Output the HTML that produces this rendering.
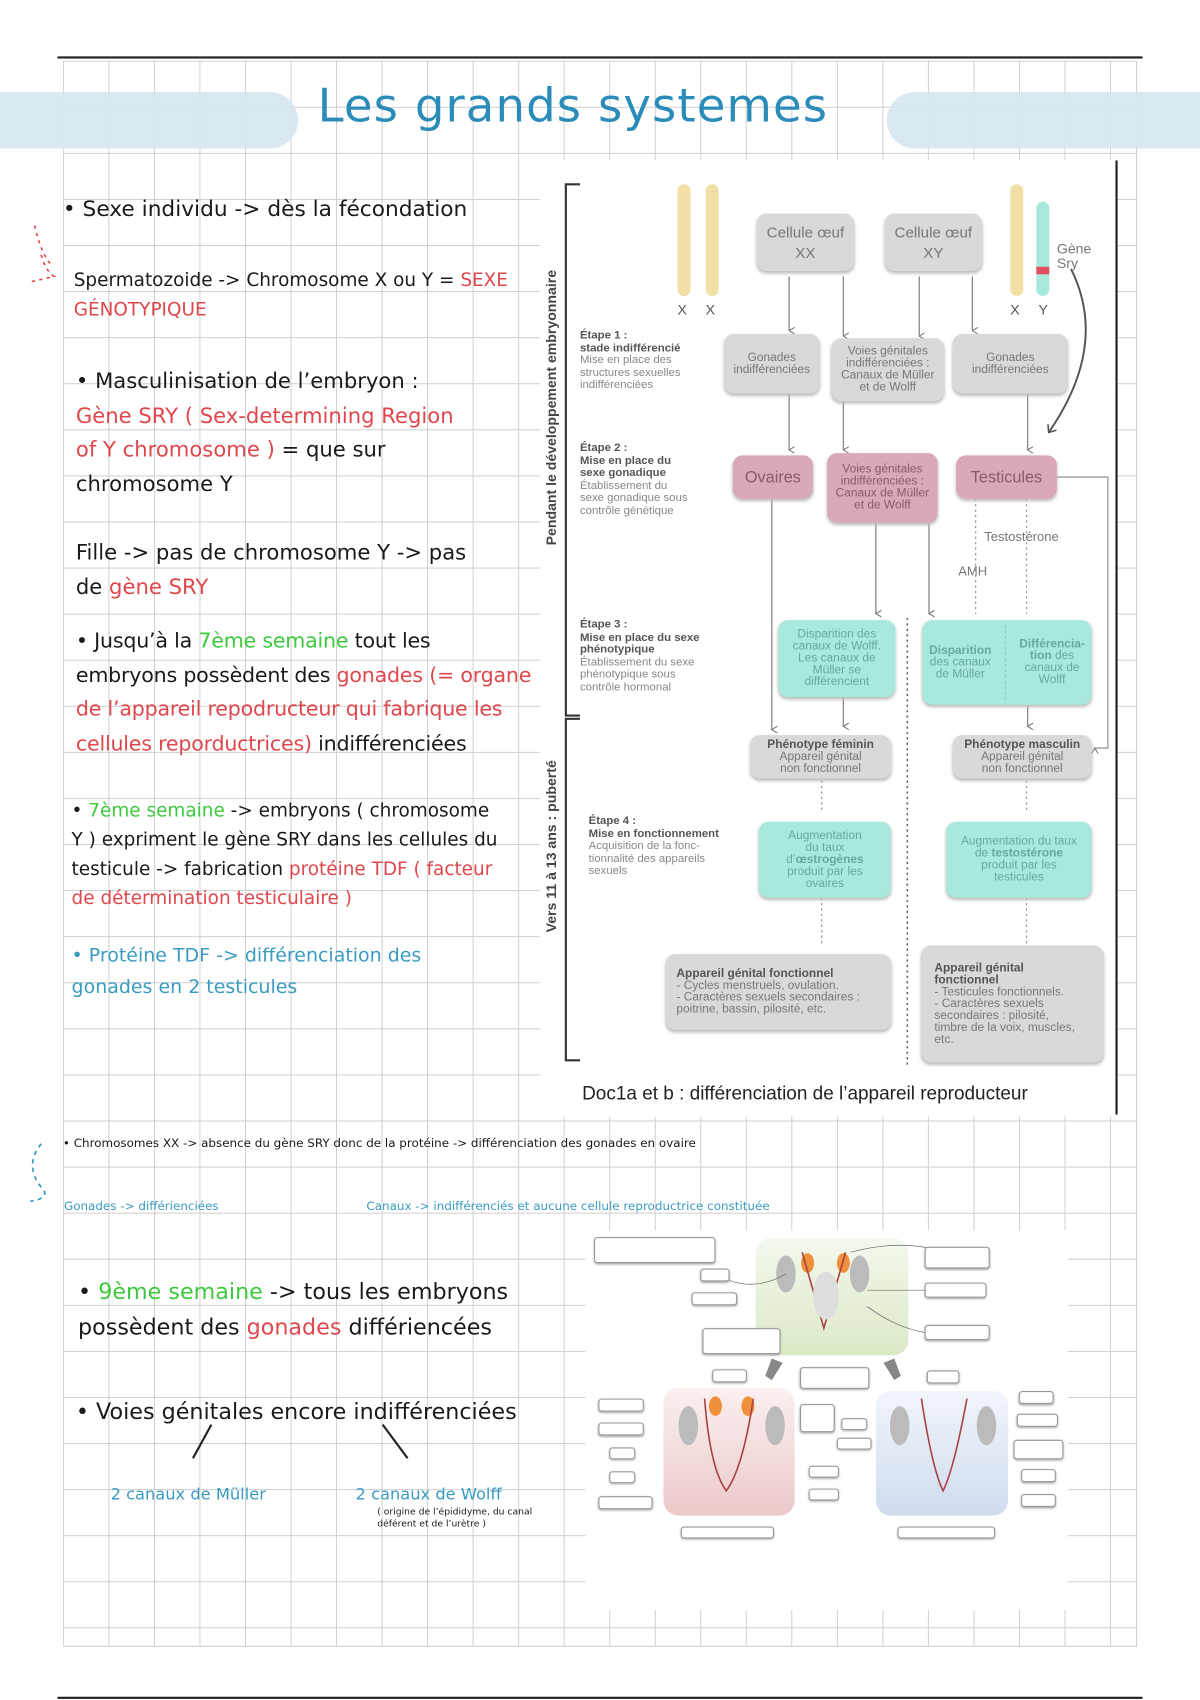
<!DOCTYPE html>
<html><head><meta charset="utf-8"><style>
html,body{margin:0;padding:0;background:#fff;}
#wrap{width:1107px;height:1568px;position:relative;transform:scale(1.08401,1.08418);transform-origin:0 0;overflow:hidden;font-family:"Liberation Sans",sans-serif;}
.a{position:absolute;}
.grid{position:absolute;left:58px;top:56px;width:990px;height:1462px;
background-image:linear-gradient(#cfcfcf 1px,transparent 1px),linear-gradient(90deg,#cfcfcf 1px,transparent 1px);
background-size:42px 42.5px;background-position:0 0;border-right:1px solid #cfcfcf;border-bottom:1px solid #cfcfcf;}
.h{font-family:"DejaVu Sans","Liberation Sans",sans-serif;color:#1a1a1a;white-space:nowrap;}
.r{color:#e0474c}.g{color:#3ec93e}.b{color:#3a9bc0}
.box{position:absolute;border-radius:9px;display:flex;align-items:center;justify-content:center;text-align:center;font-size:11px;line-height:11px;color:#777;box-shadow:0 2px 3px #bbb;}
.gr{background:#d9d9d9}.pk{background:#d9a9b7;color:#8a5a68}.tl{background:#a9e9dc;color:#6a9;}
.et{position:absolute;left:535px;font-size:10.5px;line-height:11.5px;color:#888;}
.et b{color:#555}
.lb{position:absolute;background:#fff;border:1px solid #999;border-radius:3px;font-size:4px;color:#777;text-align:center;box-shadow:0 1px 2px #aaa;}
</style></head><body><div id="wrap">
<div class="a" style="left:53px;top:52px;width:1001px;height:2px;background:#222"></div>
<div class="a" style="left:53px;top:1565px;width:1001px;height:2px;background:#222"></div>
<div class="grid"></div>
<div class="a" style="left:0;top:85px;width:275px;height:52px;background:#d6e7f0;border-radius:0 26px 26px 0;opacity:.9"></div>
<div class="a" style="left:818px;top:85px;width:289px;height:52px;background:#d6e7f0;border-radius:26px 0 0 26px;opacity:.9"></div>
<div class="a h" style="left:293px;top:73px;font-size:43px;color:#2b8cba;letter-spacing:1px">Les grands systemes</div>

<!-- left text -->
<div class="a h" style="left:58px;top:180px;font-size:20px">• Sexe individu -&gt; dès la fécondation</div>
<div class="a h" style="left:68px;top:246px;font-size:17px;line-height:27px">Spermatozoide -&gt; Chromosome X ou Y = <span class="r">SEXE</span><br><span class="r">GÉNOTYPIQUE</span></div>
<div class="a h" style="left:70px;top:336px;font-size:19.5px;line-height:31.5px">• Masculinisation de l’embryon :<br><span class="r">Gène SRY ( Sex-determining Region</span><br><span class="r">of Y chromosome )</span> = que sur<br>chromosome Y</div>
<div class="a h" style="left:70px;top:494px;font-size:19.5px;line-height:31.5px">Fille -&gt; pas de chromosome Y -&gt; pas<br>de <span class="r">gène SRY</span></div>
<div class="a h" style="left:70px;top:576px;font-size:19px;line-height:31.5px;letter-spacing:-0.2px">• Jusqu’à la <span class="g">7ème semaine</span> tout les<br>embryons possèdent des <span class="r">gonades (= organe</span><br><span class="r">de l’appareil repodructeur qui fabrique les</span><br><span class="r">cellules reporductrices)</span> indifférenciées</div>
<div class="a h" style="left:66px;top:735px;font-size:17px;line-height:27px">• <span class="g">7ème semaine</span> -&gt; embryons ( chromosome<br>Y ) expriment le gène SRY dans les cellules du<br>testicule -&gt; fabrication <span class="r">protéine TDF ( facteur</span><br><span class="r">de détermination testiculaire )</span></div>
<div class="a h b" style="left:66px;top:868px;font-size:17.5px;line-height:29px">• Protéine TDF -&gt; différenciation des<br>gonades en 2 testicules</div>
<svg class="a" style="left:20px;top:205px" width="40" height="60"><path d="M12 3 Q18 30 28 40 M18 30 Q22 45 30 50 L8 55" fill="none" stroke="#e0474c" stroke-width="1.5" stroke-dasharray="3 4"/></svg>
<svg class="a" style="left:20px;top:1050px" width="40" height="65"><path d="M18 5 Q2 25 18 45 Q28 55 8 58" fill="none" stroke="#3a9bc0" stroke-width="1.6" stroke-dasharray="4 4"/></svg>

<div class="a h" style="left:58px;top:1048px;font-size:11px">• Chromosomes XX -&gt; absence du gène SRY donc de la protéine -&gt; différenciation des gonades en ovaire</div>
<div class="a h b" style="left:59px;top:1106px;font-size:11px">Gonades -&gt; différienciées</div>
<div class="a h b" style="left:338px;top:1106px;font-size:11px">Canaux -&gt; indifférenciés et aucune cellule reproductrice constituée</div>
<div class="a h" style="left:72px;top:1175px;font-size:20.5px;line-height:33px">• <span class="g">9ème semaine</span> -&gt; tous les embryons<br>possèdent des <span class="r">gonades</span> différiencées</div>
<div class="a h" style="left:70px;top:1290px;font-size:20.5px">• Voies génitales encore indifférenciées</div>
<svg class="a" style="left:170px;top:1312px" width="220" height="40"><line x1="25" y1="2" x2="8" y2="33" stroke="#222" stroke-width="2"/><line x1="183" y1="2" x2="206" y2="33" stroke="#222" stroke-width="2"/></svg>
<div class="a h b" style="left:102px;top:1369px;font-size:15px">2 canaux de Müller</div>
<div class="a h b" style="left:328px;top:1369px;font-size:15px">2 canaux de Wolff</div>
<div class="a h" style="left:348px;top:1390px;font-size:8.5px;line-height:11px">( origine de l’épididyme, du canal<br>déférent et de l’urètre )</div>

<!-- diagram -->
<div class="a" style="left:498px;top:148px;width:532px;height:882px;background:#fff"></div>
<div class="a" style="left:1029px;top:148px;width:2px;height:880px;background:#222"></div>
<svg class="a" style="left:498px;top:148px" width="540" height="882" font-family="Liberation Sans, sans-serif">
<defs><marker id="ar" markerWidth="8" markerHeight="8" refX="4" refY="6" orient="auto-start-reverse" markerUnits="userSpaceOnUse"><path d="M1 1 L4 6 L7 1" fill="none" stroke="#777" stroke-width="1"/></marker>
<marker id="ar2" markerWidth="10" markerHeight="10" refX="5" refY="5" orient="auto" markerUnits="userSpaceOnUse"><path d="M0 0 L6 5 L0 10" fill="none" stroke="#555" stroke-width="1.5"/></marker></defs>
<g stroke="#333" stroke-width="2" fill="none"><path d="M37 22 H24 V512 H37"/><path d="M37 515 H24 V830 H37"/></g>
<text transform="translate(15,355) rotate(-90)" font-size="13" font-weight="bold" fill="#444">Pendant le développement embryonnaire</text>
<text transform="translate(15,712) rotate(-90)" font-size="13" font-weight="bold" fill="#444">Vers 11 à 13 ans : puberté</text>
<g fill="#f2dfa6"><rect x="127" y="22" width="12" height="103" rx="6"/><rect x="153" y="22" width="12" height="103" rx="6"/><rect x="434" y="22" width="12" height="103" rx="6"/></g>
<rect x="458" y="38" width="12" height="87" rx="6" fill="#a9e9dc"/><rect x="458" y="98" width="12" height="7" fill="#e05060"/>
<g font-size="13" fill="#555"><text x="127" y="142">X</text><text x="153" y="142">X</text><text x="434" y="142">X</text><text x="460" y="142">Y</text></g>
<text x="477" y="86" font-size="13" fill="#777">Gène</text><text x="477" y="99" font-size="13" fill="#777">Sry</text>
<path d="M490 100 Q525 170 470 250" fill="none" stroke="#555" stroke-width="1.8" marker-end="url(#ar2)"/>
<g stroke="#888" stroke-width="1.2" marker-end="url(#ar)">
<line x1="230" y1="107" x2="230" y2="157"/><line x1="280" y1="107" x2="280" y2="162"/><line x1="350" y1="107" x2="350" y2="162"/><line x1="399" y1="107" x2="399" y2="157"/>
<line x1="230" y1="215" x2="230" y2="267"/><line x1="280" y1="222" x2="280" y2="267"/><line x1="450" y1="215" x2="450" y2="267"/>
<line x1="214" y1="312" x2="214" y2="525"/><line x1="310" y1="334" x2="310" y2="418"/><line x1="359" y1="334" x2="359" y2="418"/>
<line x1="280" y1="495" x2="280" y2="522"/><line x1="450" y1="502" x2="450" y2="522"/>
</g>
<g stroke="#999" stroke-width="1.2" stroke-dasharray="2 3"><line x1="402" y1="312" x2="402" y2="418"/><line x1="449" y1="312" x2="449" y2="418"/>
<line x1="260" y1="572" x2="260" y2="602"/><line x1="449" y1="572" x2="449" y2="602"/><line x1="260" y1="680" x2="260" y2="722"/><line x1="449" y1="680" x2="449" y2="722"/></g>
<line x1="339" y1="422" x2="339" y2="835" stroke="#666" stroke-width="1.5" stroke-dasharray="2 3"/>
<path d="M477 292 H524 V542 H512" fill="none" stroke="#999" stroke-width="1.2" marker-end="url(#ar)"/>
<text x="410" y="351" font-size="12" fill="#777">Testostérone</text><text x="386" y="383" font-size="12" fill="#777">AMH</text>
<text x="39" y="866" font-size="17.5" fill="#222">Doc1a et b : différenciation de l’appareil reproducteur</text>
</svg>
<div class="box gr" style="left:698px;top:197px;width:90px;height:53px;font-size:14px;line-height:19px">Cellule œuf<br>XX</div>
<div class="box gr" style="left:816px;top:197px;width:90px;height:53px;font-size:14px;line-height:19px">Cellule œuf<br>XY</div>
<div class="box gr" style="left:668px;top:308px;width:88px;height:55px">Gonades<br>indifférenciées</div>
<div class="box gr" style="left:767px;top:312px;width:104px;height:58px">Voies génitales<br>indifférenciées :<br>Canaux de Müller<br>et de Wolff</div>
<div class="box gr" style="left:879px;top:308px;width:106px;height:55px">Gonades<br>indifférenciées</div>
<div class="box pk" style="left:676px;top:420px;width:74px;height:40px;font-size:15px">Ovaires</div>
<div class="box pk" style="left:763px;top:418px;width:102px;height:64px">Voies génitales<br>indifférenciées :<br>Canaux de Müller<br>et de Wolff</div>
<div class="box pk" style="left:882px;top:420px;width:93px;height:40px;font-size:15px">Testicules</div>
<div class="box tl" style="left:718px;top:572px;width:108px;height:71px">Disparition des<br>canaux de Wolff.<br>Les canaux de<br>Müller se<br>différencient</div>
<div class="box tl" style="left:851px;top:572px;width:156px;height:78px;justify-content:space-around"><span><b>Disparition</b><br>des canaux<br>de Müller</span><span style="border-left:1px dashed #8cc;height:70px"></span><span><b>Différencia-<br>tion</b> des<br>canaux de<br>Wolff</span></div>
<div class="box gr" style="left:692px;top:678px;width:130px;height:40px"><span><b style="color:#555">Phénotype féminin</b><br>Appareil génital<br>non fonctionnel</span></div>
<div class="box gr" style="left:879px;top:678px;width:128px;height:40px"><span><b style="color:#555">Phénotype masculin</b><br>Appareil génital<br>non fonctionnel</span></div>
<div class="box tl" style="left:700px;top:758px;width:122px;height:70px"><span>Augmentation<br>du taux<br>d’<b>œstrogènes</b><br>produit par les<br>ovaires</span></div>
<div class="box tl" style="left:873px;top:758px;width:134px;height:70px"><span>Augmentation du taux<br>de <b>testostérone</b><br>produit par les<br>testicules</span></div>
<div class="box gr" style="left:614px;top:880px;width:208px;height:70px;justify-content:flex-start;text-align:left;padding-left:10px;box-sizing:border-box"><span><b style="color:#555">Appareil génital fonctionnel</b><br>- Cycles menstruels, ovulation.<br>- Caractères sexuels secondaires :<br>poitrine, bassin, pilosité, etc.</span></div>
<div class="box gr" style="left:850px;top:872px;width:168px;height:108px;justify-content:flex-start;text-align:left;padding-left:12px;box-sizing:border-box"><span><b style="color:#555">Appareil génital<br>fonctionnel</b><br>- Testicules fonctionnels.<br>- Caractères sexuels<br>secondaires : pilosité,<br>timbre de la voix, muscles,<br>etc.</span></div>
<div class="et" style="top:304px"><b>Étape 1 :<br>stade indifférencié</b><br>Mise en place des<br>structures sexuelles<br>indifférenciées</div>
<div class="et" style="top:408px"><b>Étape 2 :<br>Mise en place du<br>sexe gonadique</b><br>Établissement du<br>sexe gonadique sous<br>contrôle génétique</div>
<div class="et" style="top:571px"><b>Étape 3 :<br>Mise en place du sexe<br>phénotypique</b><br>Établissement du sexe<br>phénotypique sous<br>contrôle hormonal</div>
<div class="et" style="top:752px;left:543px"><b>Étape 4 :<br>Mise en fonctionnement</b><br>Acquisition de la fonc-<br>tionnalité des appareils<br>sexuels</div>

<!-- bottom image -->
<div class="a" style="left:540px;top:1135px;width:445px;height:350px;background:#fff"></div>
<div class="a" style="left:697px;top:1142px;width:141px;height:108px;border-radius:14px;background:linear-gradient(#f4f8ee,#dbe9c6)"></div>
<div class="a" style="left:612px;top:1280px;width:121px;height:118px;border-radius:14px;background:linear-gradient(#fbf0f0,#ecc9c9)"></div>
<div class="a" style="left:808px;top:1283px;width:122px;height:115px;border-radius:14px;background:linear-gradient(#f2f5fb,#cfdcee)"></div>
<svg class="a" style="left:540px;top:1135px" width="445" height="350">
<g fill="#bbb"><ellipse cx="185" cy="40" rx="9" ry="17"/><ellipse cx="253" cy="40" rx="9" ry="17"/><ellipse cx="95" cy="180" rx="9" ry="18"/><ellipse cx="175" cy="180" rx="9" ry="18"/><ellipse cx="290" cy="180" rx="9" ry="18"/><ellipse cx="370" cy="180" rx="9" ry="18"/></g>
<g fill="#f0903a"><ellipse cx="205" cy="30" rx="6" ry="9"/><ellipse cx="238" cy="30" rx="6" ry="9"/><ellipse cx="120" cy="162" rx="6" ry="9"/><ellipse cx="150" cy="162" rx="6" ry="9"/></g>
<g stroke="#a44" stroke-width="1.5" fill="none"><path d="M200 20 L220 90 L240 20"/><path d="M110 155 Q115 220 130 240 Q145 220 155 155"/><path d="M310 155 Q320 220 330 240 Q340 220 352 155"/></g>
<ellipse cx="222" cy="60" rx="12" ry="22" fill="#ddd"/>
<g fill="#888"><path d="M172 118 l10 4 -10 16 -6 -4z"/><path d="M285 118 l-10 4 10 16 6 -4z"/></g>
<g stroke="#666" stroke-width="0.6" fill="none"><path d="M118 38 Q150 60 185 40"/><path d="M345 25 Q300 5 245 20"/><path d="M345 55 H260"/><path d="M345 95 Q300 100 260 70"/></g>
</svg>
<div class="lb" style="left:548px;top:1141px;width:110px;height:22px"></div>
<div class="lb" style="left:646px;top:1170px;width:25px;height:10px"></div>
<div class="lb" style="left:638px;top:1192px;width:40px;height:10px"></div>
<div class="lb" style="left:648px;top:1225px;width:70px;height:22px"></div>
<div class="lb" style="left:853px;top:1150px;width:58px;height:18px"></div>
<div class="lb" style="left:853px;top:1183px;width:55px;height:12px"></div>
<div class="lb" style="left:853px;top:1222px;width:58px;height:12px"></div>
<div class="lb" style="left:657px;top:1263px;width:30px;height:10px"></div>
<div class="lb" style="left:738px;top:1261px;width:62px;height:18px"></div>
<div class="lb" style="left:855px;top:1264px;width:28px;height:10px"></div>
<div class="lb" style="left:552px;top:1290px;width:40px;height:10px"></div>
<div class="lb" style="left:552px;top:1312px;width:40px;height:10px"></div>
<div class="lb" style="left:562px;top:1335px;width:22px;height:9px"></div>
<div class="lb" style="left:562px;top:1357px;width:22px;height:9px"></div>
<div class="lb" style="left:552px;top:1380px;width:48px;height:10px"></div>
<div class="lb" style="left:738px;top:1295px;width:30px;height:24px"></div>
<div class="lb" style="left:776px;top:1308px;width:22px;height:9px"></div>
<div class="lb" style="left:772px;top:1326px;width:30px;height:9px"></div>
<div class="lb" style="left:746px;top:1352px;width:26px;height:9px"></div>
<div class="lb" style="left:746px;top:1373px;width:26px;height:9px"></div>
<div class="lb" style="left:628px;top:1408px;width:84px;height:9px"></div>
<div class="lb" style="left:828px;top:1408px;width:88px;height:9px"></div>
<div class="lb" style="left:940px;top:1283px;width:30px;height:10px"></div>
<div class="lb" style="left:938px;top:1304px;width:36px;height:10px"></div>
<div class="lb" style="left:935px;top:1328px;width:44px;height:16px"></div>
<div class="lb" style="left:942px;top:1355px;width:30px;height:10px"></div>
<div class="lb" style="left:942px;top:1378px;width:30px;height:10px"></div>
</div></body></html>
